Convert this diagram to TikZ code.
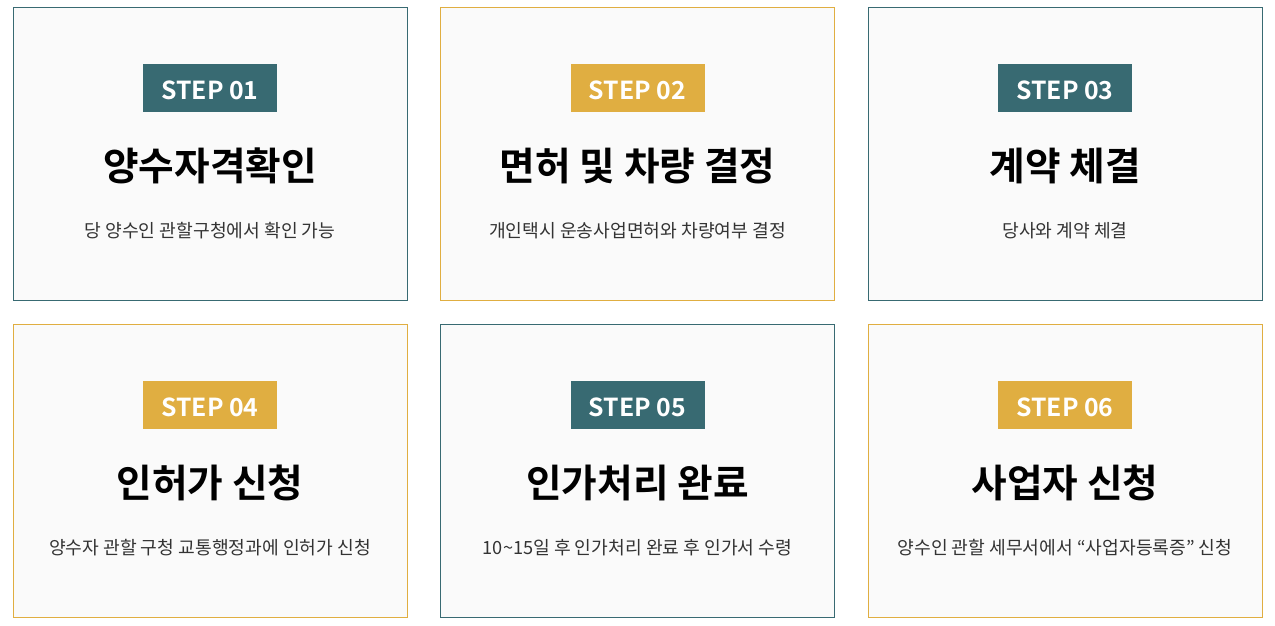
\documentclass[tikz,border=0pt]{standalone}
\usepackage{fontspec}
\newfontfamily\krb{Noto Sans CJK KR Bold}
\newfontfamily\krr{Noto Sans CJK KR}
\definecolor{teal1}{HTML}{386A72}
\definecolor{gold1}{HTML}{E0AE41}
\definecolor{boxbg}{HTML}{FAFAFA}
\definecolor{subtxt}{HTML}{333333}
\tikzset{
  card/.style={draw=#1, fill=boxbg, line width=0.9pt, minimum width=394pt, minimum height=293pt, inner sep=0pt},
  badge/.style={fill=#1, minimum width=134pt, minimum height=48pt, inner sep=0pt},
  badgetxt/.style={text=white, inner sep=0pt, font=\krb\fontsize{24.8}{26}\selectfont},
  ttl/.style={text=black, inner sep=0pt, font=\krb\fontsize{38.7}{42}\selectfont},
  sub/.style={text=subtxt, inner sep=0pt, font=\krr\fontsize{18.2}{20}\selectfont},
}
\begin{document}
\begin{tikzpicture}[x=1pt,y=1pt]
\fill[white] (0,0) rectangle (1275,626);
\useasboundingbox (0,0) rectangle (1275,626);
% cards
\node[card=teal1] (c1) at (210,472.5) {};
\node[card=gold1] (c2) at (637.5,472.5) {};
\node[card=teal1] (c3) at (1065,472.5) {};
\node[card=gold1] (c4) at (210,155.5) {};
\node[card=teal1] (c5) at (637.5,155.5) {};
\node[card=gold1] (c6) at (1065,155.5) {};
% badges
\node[badge=teal1] (b1) at (210,538) {};
\node[badge=gold1] (b2) at (637.5,538) {};
\node[badge=teal1] (b3) at (1065,538) {};
\node[badge=gold1] (b4) at (210,221) {};
\node[badge=teal1] (b5) at (637.5,221) {};
\node[badge=gold1] (b6) at (1065,221) {};
\node[badgetxt] (l1) at ([yshift=-2pt]b1.center) {STEP 01};
\node[badgetxt] (l2) at ([yshift=-2pt]b2.center) {STEP 02};
\node[badgetxt] (l3) at ([yshift=-2pt]b3.center) {STEP 03};
\node[badgetxt] (l4) at ([yshift=-2pt]b4.center) {STEP 04};
\node[badgetxt] (l5) at ([yshift=-2pt]b5.center) {STEP 05};
\node[badgetxt] (l6) at ([yshift=-2pt]b6.center) {STEP 06};
% titles
\node[ttl] (t1) at (210,460) {양수자격확인};
\node[ttl] (t2) at (637.5,460) {면허 및 차량 결정};
\node[ttl] (t3) at (1065,460) {계약 체결};
\node[ttl] (t4) at (210,143) {인허가 신청};
\node[ttl] (t5) at (637.5,143) {인가처리 완료};
\node[ttl] (t6) at (1065,143) {사업자 신청};
% subtitles
\node[sub] (s1) at (210,395) {당 양수인 관할구청에서 확인 가능};
\node[sub] (s2) at (637.5,395) {개인택시 운송사업면허와 차량여부 결정};
\node[sub] (s3) at (1065,395) {당사와 계약 체결};
\node[sub] (s4) at (210,78) {양수자 관할 구청 교통행정과에 인허가 신청};
\node[sub] (s5) at (637.5,78) {10\char`~15일 후 인가처리 완료 후 인가서 수령};
\node[sub] (s6) at (1065,78) {양수인 관할 세무서에서 “사업자등록증” 신청};
\end{tikzpicture}
\end{document}
